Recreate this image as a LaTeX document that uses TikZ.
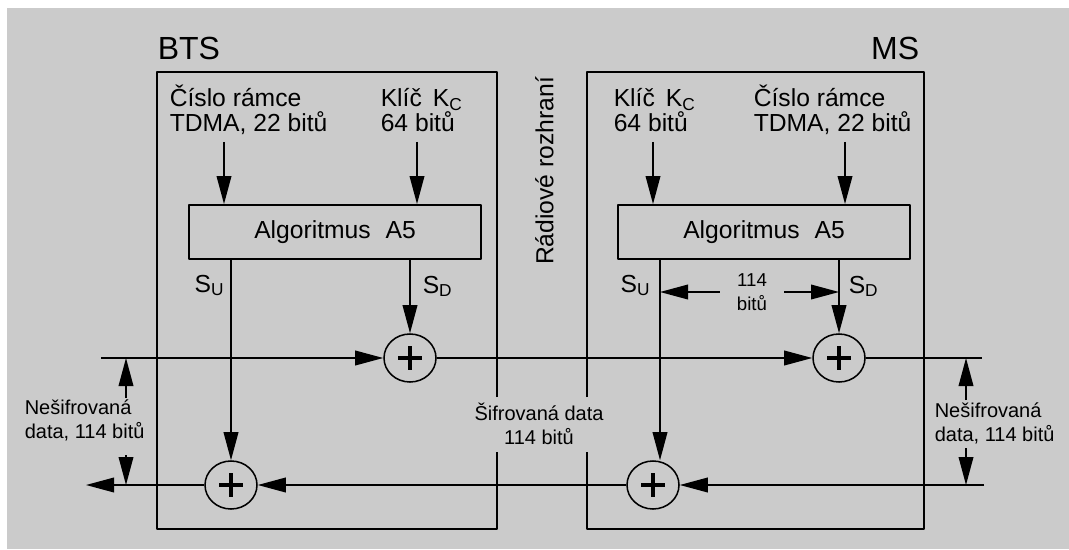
\documentclass[tikz,border=0pt]{standalone}
\usepackage{fontspec}
\setmainfont{Liberation Sans}
\usetikzlibrary{arrows.meta,shapes.geometric}
\definecolor{pozadi}{RGB}{203,203,203}
\begin{document}
\begin{tikzpicture}[x=0.75pt, y=-0.75pt, line join=round, line width=1.15pt,
	>={Triangle[length=21pt,width=11pt]},
	popis/.style={font=\fontsize{18.5}{19}\selectfont, inner sep=0pt, align=left},
	maly/.style={font=\fontsize{15}{17.5}\selectfont, inner sep=0pt},
	nadpis/.style={font=\fontsize{24}{26}\selectfont, inner sep=0pt},
	algbox/.style={draw, line width=1.4pt, minimum width=219pt, minimum height=40.5pt, font=\fontsize{18.5}{19}\selectfont},
	ramec/.style={line width=1.4pt},
	xor/.style={draw, ellipse, minimum width=39pt, minimum height=36pt, inner sep=0pt,
		path picture={\draw[line width=2.3pt] ([xshift=-8.7pt]path picture bounding box.center) -- ([xshift=8.7pt]path picture bounding box.center)
			([yshift=-8.7pt]path picture bounding box.center) -- ([yshift=8.7pt]path picture bounding box.center);}}]
	% 1. pozadi a ramy BTS, MS
	\useasboundingbox (0,0) rectangle (1069,549);
	\fill[pozadi] (7,8) rectangle (1069,549);
	\draw[ramec] (497,397) -- (497,72) -- (157,72) -- (157,529) -- (497,529) -- (497,452);
	\draw[ramec] (587,397) -- (587,72) -- (924,72) -- (924,529) -- (587,529) -- (587,452);
	\node[nadpis, anchor=base west] (bts) at (157,60) {BTS};
	\node[nadpis, anchor=base east] (ms) at (920,60) {MS};
	\node[popis, rotate=90] (rad) at (544.5,171) {Rádiové rozhraní};
	
	% 2. vstupy a algoritmus A5
	\node[popis, anchor=base west] (cisB) at (169,132) {Číslo rámce\\TDMA, 22 bitů};
	\node[popis, anchor=base west] (kliB) at (380,132) {Klíč\hspace{0.45em}K\textsubscript{C}\\64 bitů};
	\node[popis, anchor=base west] (kliM) at (613,132) {Klíč\hspace{0.45em}K\textsubscript{C}\\64 bitů};
	\node[popis, anchor=base west] (cisM) at (753,132) {Číslo rámce\\TDMA, 22 bitů};
	\node[algbox] (algB) at (335,232) {Algoritmus\hspace{0.6em}A5};
	\node[algbox] (algM) at (764,232) {Algoritmus\hspace{0.6em}A5};
	\coordinate (aB1) at (224,142);
	\coordinate (aB2) at (417,142);
	\coordinate (aM1) at (653,142);
	\coordinate (aM2) at (845,142);
	\foreach \c/\b in {aB1/algB, aB2/algB, aM1/algM, aM2/algM}
		\draw[->] (\c) -- (\c |- \b.north);
	
	% 3. scitacky a datove cesty
	\node[xor] (xBu) at (410,358) {};
	\node[xor] (xBd) at (231,485) {};
	\node[xor] (xMu) at (839,358) {};
	\node[xor] (xMd) at (653,485) {};
	\coordinate (inL) at (101,358);
	\coordinate (outR) at (982,358);
	\coordinate (inR) at (984,485);
	\coordinate (outL) at (86,485);
	\coordinate (suM) at (660,259);
	\draw[->] (inL) -- (xBu);
	\draw[->] (xBu) -- (xMu);
	\draw (xMu) -- (outR);
	\draw[->] (inR) -- (xMd);
	\draw[->] (xMd) -- (xBd);
	\draw[->] (xBd) -- (outL);
	\draw[->] (xBu |- algB.south) -- (xBu);
	\draw[->] (xBd |- algB.south) -- (xBd);
	\draw[->] (xMu |- algM.south) -- (xMu);
	\draw[->] (suM) -- (suM |- xMd.north);
	\node[popis, anchor=base east] (suB) at (225,292) {S\textsubscript{U}};
	\node[popis, anchor=base west] (sdB) at (422,293) {S\textsubscript{D}};
	\node[popis, anchor=base east] (suMl) at (651,292) {S\textsubscript{U}};
	\node[popis, anchor=base west] (sdMl) at (848,293) {S\textsubscript{D}};
	\node[font=\fontsize{14}{17.5}\selectfont, inner ysep=0pt, inner xsep=12.4pt, align=center, anchor=base] (n114) at (752,310) {114\\bitů};
	\draw[->] (n114.west) -- (n114.west -| suM);
	\draw[->] (n114.east) -- (n114.east -| xMu);
	
	% 4. popisy dat
	\node[maly, align=left, anchor=base west] (nesL) at (24,438) {Nešifrovaná\\data, 114 bitů};
	\node[maly, align=left, anchor=base west] (nesR) at (934,441) {Nešifrovaná\\data, 114 bitů};
	\node[maly, align=center, anchor=base] (sifr) at (539,444) {Šifrovaná data\\114 bitů};
	\coordinate (nL1) at (126,398);
	\coordinate (nL2) at (126,455);
	\coordinate (nR1) at (966,400);
	\coordinate (nR2) at (966,448);
	\draw[->] (nL1) -- (nL1 |- inL);
	\draw[->] (nL2) -- (nL2 |- outL);
	\draw[->] (nR1) -- (nR1 |- outR);
	\draw[->] (nR2) -- (nR2 |- inR);
\end{tikzpicture}
\end{document}
